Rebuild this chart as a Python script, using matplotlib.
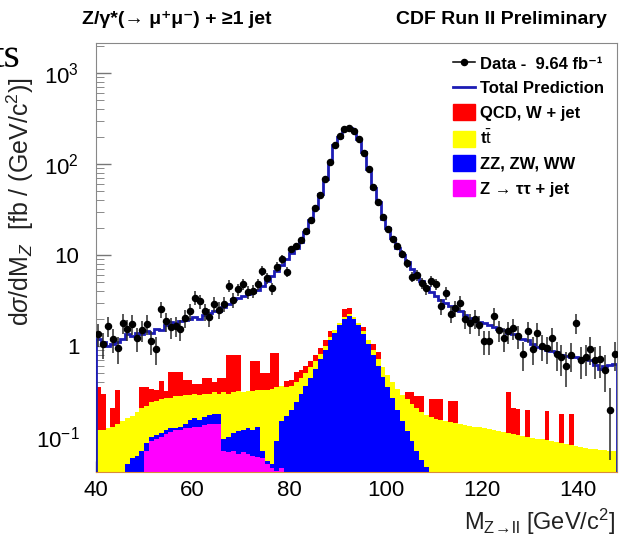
import matplotlib

matplotlib.use("Agg")
import matplotlib.pyplot as plt  # noqa: E402
import numpy as np  # noqa: E402
from matplotlib.lines import Line2D  # noqa: E402
from matplotlib.patches import Patch  # noqa: E402
from matplotlib.ticker import FixedLocator, FixedFormatter, LogLocator, NullFormatter  # noqa: E402

plt.rcParams["font.family"] = ["Liberation Sans", "DejaVu Sans"]
plt.rcParams["mathtext.fontset"] = "custom"
plt.rcParams["mathtext.rm"] = "Liberation Sans"
plt.rcParams["mathtext.it"] = "Liberation Sans:italic"
plt.rcParams["mathtext.bf"] = "Liberation Sans:bold"

LUMI = 9.64                      # fb^-1
mass_edges = np.arange(40, 149)  # 1 GeV/c^2 bins, 40 -> 148

# dsigma/dM in fb/(GeV/c^2), one value per bin starting at 40 GeV/c^2
ztautau = [
    0, 0, 0, 0, 0, 0, 0, 0, 0, 0,
    .07, .09, .095, .1, .108, .112, .118, .12, .125, .125,
    .13, .128, .135, .14, .14, .14, .07, .068, .07, .065,
    .068, .065, .062, .06, .058, .05, .045, .042, .045, .04,
    0, 0, 0, 0, 0, 0, 0, 0, 0, 0,
    0, 0, 0, 0, 0, 0, 0, 0, 0, 0,
    0, 0, 0, 0, 0, 0, 0, 0, 0, 0,
    0, 0, 0, 0, 0, 0, 0, 0, 0, 0,
    0, 0, 0, 0, 0, 0, 0, 0, 0, 0,
    0, 0, 0, 0, 0, 0, 0, 0, 0, 0,
    0, 0, 0, 0, 0, 0, 0, 0,
]
diboson = [
    0, 0, 0, 0, 0, 0, .05, .058, .062, .07,
    .015, .01, .01, .01, .01, .013, .007, .01, .015, .03,
    .03, .027, .03, .035, .04, .04, .025, .032, .04, .05,
    .052, .06, .058, .07, .012, .005, .005, .048, .105, .13,
    .2, .24, .3, .36, .45, .56, .72, .9, 1.15, 1.4,
    1.7, 2.0, 2.15, 2.0, 1.7, 1.35, 1.05, .8, .6, .46,
    .35, .27, .2, .15, .115, .09, .07, .056, .047, .04,
    0, 0, 0, 0, 0, 0, 0, 0, 0, 0,
    0, 0, 0, 0, 0, 0, 0, 0, 0, 0,
    0, 0, 0, 0, 0, 0, 0, 0, 0, 0,
    0, 0, 0, 0, 0, 0, 0, 0,
]
ttbar = [
    .12, .12, .125, .13, .14, .15, .11, .112, .128, .14,
    .135, .14, .145, .15, .152, .145, .155, .15, .15, .135,
    .14, .135, .135, .125, .13, .12, .215, .2, .2, .205,
    .19, .195, .2, .2, .26, .275, .29, .26, .21, .18,
    .16, .16, .15, .14, .13, .12, .1, .1, .1, .1,
    .1, .1, .1, .1, .1, .1, .1, .1, .12, .12,
    .13, .13, .14, .14, .145, .14, .14, .134, .128, .125,
    .158, .152, .148, .145, .142, .14, .137, .133, .13, .127,
    .125, .122, .12, .117, .114, .111, .108, .105, .102, .1,
    .098, .096, .094, .092, .09, .088, .086, .084, .082, .08,
    .078, .076, .074, .073, .072, .071, .07, .07,
]
qcd_wjet = [
    .23, .18, 0, .08, .19, 0, 0, 0, 0, .14,
    .13, .1, .08, .15, .05, .25, .24, .24, .13, .13,
    .08, .09, .15, .15, .09, .15, .14, .5, .49, .48,
    0, 0, .37, .36, .17, .17, .5, .49, 0, .06,
    .06, .12, .1, .1, .1, .12, .13, .15, .2, 0,
    0, .45, .35, 0, 0, .15, 0, .15, .13, 0,
    0, 0, 0, 0, .05, .08, .07, .09, 0, .095,
    .1, .11, 0, .105, .108, 0, 0, 0, 0, 0,
    0, 0, 0, 0, 0, .2, .1, .1, 0, .1,
    0, 0, 0, .1, 0, 0, .095, 0, .098, 0,
    0, 0, 0, 0, 0, 0, 0, 0,
]
total_pred = [
    1.2, 1.1, 1.0, 1.05, 1.1, 1.2, 1.35, 1.3, 1.4, 1.35,
    1.45, 1.4, 1.55, 1.5, 1.7, 1.85, 1.8, 1.9, 1.95, 2.0,
    2.1, 2.0, 2.2, 2.3, 2.4, 2.45, 2.7, 2.9, 3.3, 3.4,
    3.5, 3.7, 3.9, 4.1, 4.6, 5.2, 5.9, 6.7, 7.8, 9.0,
    10.5, 12, 14, 18, 24, 33, 47, 68, 105, 160,
    200, 245, 250, 230, 190, 135, 88, 55, 38, 25,
    20, 15.5, 12, 10, 8.4, 7.0, 6.0, 5.2, 4.5, 3.9,
    3.5, 3.2, 3.0, 2.75, 2.55, 2.4, 2.2, 2.05, 1.95, 1.85,
    1.8, 1.7, 1.6, 1.55, 1.48, 1.4, 1.35, 1.28, 1.2, 1.15,
    1.05, .98, .95, .9, .88, .85, .8, .78, .76, .75,
    .74, .72, .7, .62, .56, .6, .62, .64,
]
data = [
    1.35, 1.05, 1.66, 1.2, .95, 1.8, 1.54, 1.75, 1.22, 1.5,
    1.75, 1.13, .93, 2.55, 1.88, 1.6, 1.66, 1.54, 2.03, 2.4,
    3.4, 3.1, 2.4, 2.1, 2.9, 2.5, 2.9, 4.6, 3.2, 4.2,
    4.8, 3.9, 4.0, 4.8, 6.7, 5.6, 4.3, 7.4, 9.0, 6.5,
    11.5, 12.5, 14.5, 18.5, 24.5, 33, 46, 69, 104, 162,
    205, 245, 248, 228, 188, 133, 88, 56, 38, 26,
    19.5, 15, 12.5, 10.2, 8.2, 5.8, 6.0, 4.9, 4.3, 5.2,
    4.8, 2.75, 3.8, 2.25, 2.6, 2.97, 1.98, 1.79, 2.0, 1.7,
    1.13, 1.13, 2.14, 1.5, 1.22, 1.45, 1.58, 1.3, .82, 1.46,
    .93, 1.39, 1.0, .95, 1.22, .82, .75, .6, .8, 1.79,
    .7, .75, .93, .7, .72, .55, .2, .82,
]

# stack order, bottom to top
stack = [
    (ztautau, "#ff00ff", "Z → ττ + jet"),
    (diboson, "#0000ff", "ZZ, ZW, WW"),
    (ttbar, "#ffff00", r"t$\bar{\rm t}$"),
    (qcd_wjet, "#ff0000", "QCD, W + jet"),
]

fig = plt.figure(figsize=(6.2, 5.43), dpi=100, facecolor="white")
ax = fig.add_axes([0.1548, 0.1308, 0.8403, 0.790])
ax.set_yscale("log")
ax.set_axisbelow(True)

YMIN, YMAX = 0.0412, 2140
cum = np.cumsum([np.asarray(s[0], float) for s in stack], axis=0)
# THStack style: every cumulative level filled from the bottom, largest first
for level, (_, color, _) in zip(cum[::-1], stack[::-1]):
    ax.stairs(np.maximum(level, 1e-3), mass_edges, baseline=1e-3,
              fill=True, color=color, lw=0)

ax.stairs(total_pred, mass_edges, color="#1c1cb4", lw=2.0, zorder=3)

centers = 0.5 * (mass_edges[:-1] + mass_edges[1:])
data = np.asarray(data)
err = np.sqrt(data / LUMI)
lo = np.minimum(err, data - YMIN * 1.01)
ax.errorbar(centers, data, yerr=[lo, err], fmt="o", ms=4.4, color="black",
            ecolor="#2a2a2a", elinewidth=1.1, capsize=0, zorder=4)

ax.set_xlim(40, 148)
ax.set_ylim(YMIN, YMAX)

ax.xaxis.set_major_locator(FixedLocator([40, 60, 80, 100, 120, 140]))
ax.yaxis.set_major_locator(FixedLocator([0.1, 1, 10, 100, 1000]))
ax.yaxis.set_major_formatter(FixedFormatter(
    [r"$10^{-1}$", "1", "10", r"$10^{2}$", r"$10^{3}$"]))
ax.yaxis.set_minor_locator(LogLocator(base=10, subs=np.arange(2, 10)))
ax.yaxis.set_minor_formatter(NullFormatter())
ax.tick_params(axis="both", which="major", direction="in", labelsize=16,
               color="#777777", width=1.0)
ax.tick_params(axis="y", which="major", length=11, pad=12)
ax.tick_params(axis="y", which="minor", direction="in", length=5.5,
               color="#777777")
ax.tick_params(axis="x", which="major", length=8, pad=6)
ax.tick_params(axis="x", which="minor", length=0)
for side in ("left", "top", "right"):
    ax.spines[side].set_color("#888888")
ax.spines["bottom"].set_color("#d98c3a")

ax.text(-0.146, 0.63, r"d$\sigma$/dM$_{Z}$  [fb / (GeV/c$^{2}$)]",
        transform=ax.transAxes, rotation=90, ha="center", va="center",
        fontsize=18, color="#222222")
ax.text(0.997, -0.135, r"M$_{\mathrm{Z}\!\rightarrow\!\mathrm{ll}}$ [GeV/c$^{2}$]",
        transform=ax.transAxes, ha="right", va="baseline", fontsize=17,
        color="#222222")

fig.text(0.133, 0.965, "Z/γ*(→ μ⁺μ⁻) + ≥1 jet",
         fontsize=14, fontweight="bold", va="center", ha="left")
fig.text(0.979, 0.965, "CDF Run II Preliminary", fontsize=14,
         fontweight="bold", va="center", ha="right")
fig.text(-0.012, 0.895, "ts", fontsize=30, family="Liberation Serif",
         va="center", ha="left")

handles = [
    Line2D([], [], color="black", marker="o", ms=4.4, lw=1.1),
    Line2D([], [], color="#1c1cb4", lw=2.0),
    Patch(color="#ff0000"), Patch(color="#ffff00"),
    Patch(color="#0000ff"), Patch(color="#ff00ff"),
]
labels = ["Data -  9.64 fb⁻¹", "Total Prediction", "QCD, W + jet",
          r"t$\bar{\rm t}$", "ZZ, ZW, WW", "Z → ττ + jet"]
ax.legend(handles, labels, loc="upper left", bbox_to_anchor=(0.685, 0.972),
          frameon=False, prop={"size": 12, "weight": "bold"},
          handlelength=1.35, handleheight=1.1, handletextpad=0.25,
          labelspacing=0.48, borderpad=0, borderaxespad=0)

fig.savefig("out.png", dpi=100, facecolor="white")
